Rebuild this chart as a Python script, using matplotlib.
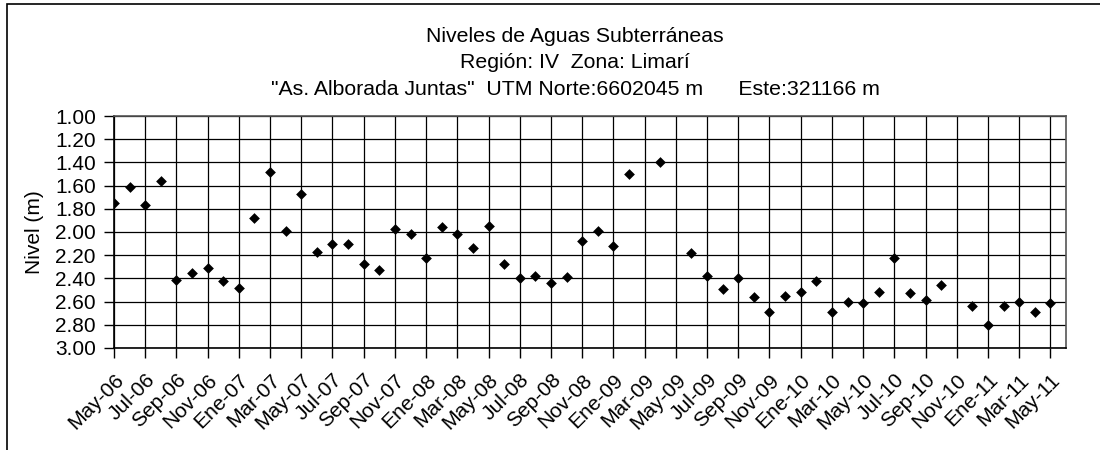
import pandas as pd
import matplotlib
matplotlib.use('Agg')
import matplotlib.pyplot as plt
from matplotlib.patches import Rectangle

plt.rcParams['font.family'] = ['Liberation Sans', 'DejaVu Sans']

# ----------- Datos de niveles (mediciones mensuales) -----------

fechas = ['2006-05', '2006-06', '2006-07', '2006-08', '2006-09', '2006-10', '2006-11', '2006-12',
          '2007-01', '2007-02', '2007-03', '2007-04', '2007-05', '2007-06', '2007-07', '2007-08',
          '2007-09', '2007-10', '2007-11', '2007-12', '2008-01', '2008-02', '2008-03', '2008-04',
          '2008-05', '2008-06', '2008-07', '2008-08', '2008-09', '2008-10', '2008-11', '2008-12',
          '2009-01', '2009-02', '2009-04', '2009-06', '2009-07', '2009-08', '2009-09', '2009-10',
          '2009-11', '2009-12', '2010-01', '2010-02', '2010-03', '2010-04', '2010-05', '2010-06',
          '2010-07', '2010-08', '2010-09', '2010-10', '2010-12', '2011-01', '2011-02', '2011-03',
          '2011-04', '2011-05']
niveles = [1.75, 1.61, 1.77, 1.56, 2.41, 2.35, 2.31, 2.42,
           2.48, 1.88, 1.48, 1.99, 1.67, 2.17, 2.10, 2.10,
           2.28, 2.33, 1.97, 2.02, 2.22, 1.96, 2.02, 2.14,
           1.95, 2.28, 2.40, 2.38, 2.44, 2.39, 2.08, 1.99,
           2.12, 1.50, 1.40, 2.18, 2.38, 2.49, 2.40, 2.56,
           2.69, 2.55, 2.52, 2.42, 2.69, 2.60, 2.61, 2.52,
           2.22, 2.53, 2.59, 2.46, 2.64, 2.80, 2.64, 2.60,
           2.69, 2.61]

meses = ['Ene', 'Feb', 'Mar', 'Abr', 'May', 'Jun', 'Jul', 'Ago', 'Sep', 'Oct', 'Nov', 'Dic']

titulo = ('Niveles de Aguas Subterráneas\n'
          'Región: IV  Zona: Limarí\n'
          '"As. Alborada Juntas"  UTM Norte:6602045 m      Este:321166 m')

# ----------- Eje x en meses desde May-06 -----------

inicio = pd.Period('2006-05', freq='M')
fin = pd.Period('2011-06', freq='M')
x = [(pd.Period(f, freq='M') - inicio).n for f in fechas]
n_meses = (fin - inicio).n

ticks = list(range(0, n_meses, 2))
etiquetas = []
for t in ticks:
    p = inicio + t
    etiquetas.append(f'{meses[p.month - 1]}-{p.year % 100:02d}')

# ----------- Gráfico -----------

fig = plt.figure(figsize=(11, 4.5), dpi=100)
ax = fig.add_axes([0.1036, 0.2267, 0.8655, 0.5155])

ax.scatter(x, niveles, marker='D', s=30, color='black', zorder=5, linewidths=0)

ax.set_xlim(0, n_meses)
ax.set_ylim(3.0, 1.0)
ax.set_yticks([1.0 + 0.2 * i for i in range(11)])
ax.set_yticklabels([f'{1.0 + 0.2 * i:.2f}' for i in range(11)], fontsize=15)
ax.set_xticks(ticks)
ax.set_xticklabels(etiquetas, rotation=45, ha='right', va='top', fontsize=15,
                   rotation_mode='anchor')

ax.grid(True, color='black', linewidth=0.9)
ax.set_axisbelow(True)
ax.tick_params(axis='both', direction='out', length=7, width=1, color='black')
ax.tick_params(axis='y', pad=6)
ax.tick_params(axis='x', pad=9)
for s in ax.spines.values():
    s.set_linewidth(1.2)
    s.set_color('#555555')
ax.spines['bottom'].set_color('black')
ax.spines['left'].set_color('black')

ax.set_ylabel('Nivel (m)', fontsize=15, labelpad=8)
fig.text(0.523, 0.941, titulo, ha='center', va='top', fontsize=15.3, linespacing=1.5)

# marco del área del gráfico
fig.patches.append(Rectangle((7 / 1100, -0.1), 1.2, 0.1 + 446 / 450, transform=fig.transFigure,
                             fill=False, edgecolor='black', linewidth=1.2))

fig.savefig('out.png', dpi=100)
